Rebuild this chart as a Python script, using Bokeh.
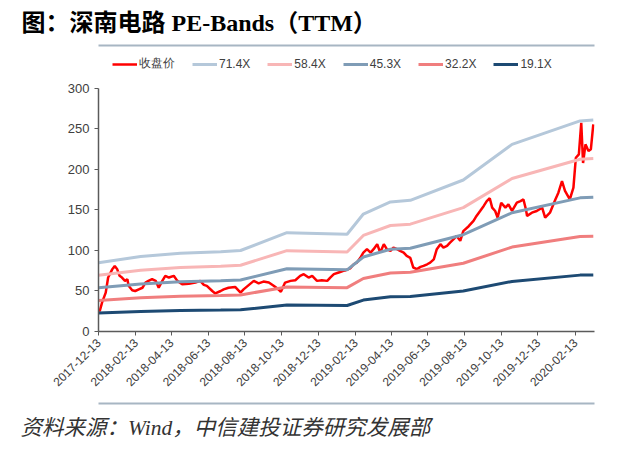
import math
import pandas as pd
from bokeh.plotting import figure
from bokeh.models import (ColumnDataSource, Legend, LegendItem, FixedTicker,
                          DatetimeTickFormatter, Range1d, Title, LinearAxis)
from bokeh.embed import file_html
from bokeh.resources import INLINE

# ---------------- data ----------------
title_text = "图：深南电路 PE-Bands（TTM）"
source_text = "资料来源：Wind，中信建投证券研究发展部"

close_label = "收盘价"
close_dates = [
    "2017-12-13", "2017-12-15", "2017-12-19", "2017-12-25", "2017-12-29", "2018-01-05", "2018-01-09",
    "2018-01-13", "2018-01-17", "2018-01-21", "2018-01-26", "2018-01-30", "2018-02-01", "2018-02-07",
    "2018-02-12", "2018-02-18", "2018-02-24", "2018-03-01", "2018-03-06", "2018-03-12", "2018-03-18",
    "2018-03-23", "2018-03-29", "2018-04-03", "2018-04-09", "2018-04-17", "2018-04-23", "2018-05-01",
    "2018-05-12", "2018-05-23", "2018-05-31", "2018-06-06", "2018-06-11", "2018-06-20", "2018-06-25",
    "2018-07-04", "2018-07-09", "2018-07-17", "2018-07-28", "2018-08-06", "2018-08-11", "2018-08-20",
    "2018-08-28", "2018-09-05", "2018-09-13", "2018-09-22", "2018-09-30", "2018-10-08", "2018-10-12",
    "2018-10-19", "2018-10-28", "2018-11-05", "2018-11-13", "2018-11-19", "2018-11-27", "2018-12-03",
    "2018-12-11", "2018-12-19", "2018-12-28", "2019-01-02", "2019-01-08", "2019-01-16", "2019-01-24",
    "2019-01-28", "2019-02-04", "2019-02-10", "2019-02-15", "2019-02-21", "2019-02-26", "2019-03-04",
    "2019-03-10", "2019-03-15", "2019-03-21", "2019-03-26", "2019-04-01", "2019-04-06", "2019-04-12",
    "2019-04-17", "2019-04-23", "2019-04-28", "2019-05-04", "2019-05-09", "2019-05-15", "2019-05-20",
    "2019-05-26", "2019-06-01", "2019-06-06", "2019-06-12", "2019-06-17", "2019-06-23", "2019-06-28",
    "2019-07-04", "2019-07-09", "2019-07-15", "2019-07-20", "2019-07-26", "2019-07-31", "2019-08-06",
    "2019-08-11", "2019-08-20", "2019-08-28", "2019-09-02", "2019-09-08", "2019-09-14", "2019-09-19",
    "2019-09-24", "2019-09-28", "2019-10-03", "2019-10-07", "2019-10-13", "2019-10-20", "2019-10-25",
    "2019-10-31", "2019-11-08", "2019-11-14", "2019-11-19", "2019-11-23", "2019-11-25", "2019-12-03",
    "2019-12-11", "2019-12-20", "2019-12-25", "2020-01-02", "2020-01-11", "2020-01-16", "2020-01-22",
    "2020-01-27", "2020-02-04", "2020-02-10", "2020-02-14", "2020-02-19", "2020-02-23", "2020-02-26",
    "2020-03-01", "2020-03-06", "2020-03-10", "2020-03-14",
]
close_values = [
    27, 25, 36, 48, 66.6, 77, 81,
    77, 68.7, 66.6, 62.5, 64.6, 56.4, 51,
    50, 52, 54, 60.4, 62.5, 64.6, 62.5,
    54, 62.5, 68.7, 66.6, 68.7, 62.5, 58.4,
    59, 60.4, 62.5, 57.6, 56.4, 50, 47,
    50, 52, 54, 55, 48, 52, 57.6,
    62.5, 59.5, 61.6, 60.4, 56.4, 52, 49,
    60.4, 62.5, 63.3, 68.7, 70.8, 66.6, 68.7,
    62.5, 63.3, 62.5, 66.6, 70.8, 72.8, 74.8,
    75.7, 78, 83, 85, 91, 97.4, 101.6,
    97.4, 101.6, 107.8, 97.4, 107.8, 101.6, 99.5,
    103.6, 101.6, 99.5, 97.4, 93.3, 91, 79,
    77, 79.7, 81, 83, 85, 89, 101.6,
    107.8, 103.6, 105.7, 109.7, 114, 118, 112,
    124, 130, 136.5, 142.7, 148.8, 155, 161,
    164.5, 153, 148.8, 140.6, 159, 153, 157,
    148.8, 159, 161, 163, 151, 142.7, 146.7,
    148.8, 153, 140.6, 146.7, 163, 171.4, 185.8,
    173.5, 163, 177.6, 214.5, 218.7, 257.7, 208,
    231, 222.8, 225, 255.7,
]

band_dates = ["2017-12-13", "2018-02-21", "2018-04-28", "2018-07-04", "2018-08-06", "2018-10-22",
              "2019-01-30", "2019-02-26", "2019-04-12", "2019-05-15", "2019-08-11", "2019-10-31",
              "2020-02-21", "2020-03-14"]
band_714 = [85.0, 92.5, 96.6, 98.6, 100.0, 122.0, 120.0, 145.0, 160.0, 162.0, 187.0, 231.0, 260.0, 261.0]
band_584 = [69.5, 75.7, 79.0, 80.6, 81.8, 99.8, 98.1, 118.6, 130.9, 132.5, 152.9, 188.9, 212.7, 213.5]
band_453 = [53.9, 58.7, 61.3, 62.6, 63.5, 77.4, 76.1, 92.0, 101.5, 102.8, 119.5, 146.6, 165.0, 165.6]
band_322 = [38.3, 41.7, 43.6, 44.5, 45.1, 55.0, 54.1, 65.4, 72.2, 73.1, 84.3, 104.2, 117.3, 117.7]
band_191 = [22.7, 24.7, 25.8, 26.4, 26.8, 32.6, 32.1, 38.8, 42.8, 43.3, 50.0, 61.8, 69.6, 69.8]
band_labels = ["71.4X", "58.4X", "45.3X", "32.2X", "19.1X"]

x_tick_labels = ["2017-12-13", "2018-02-13", "2018-04-13", "2018-06-13", "2018-08-13", "2018-10-13",
                 "2018-12-13", "2019-02-13", "2019-04-13", "2019-06-13", "2019-08-13", "2019-10-13",
                 "2019-12-13", "2020-02-13"]
y_ticks = [0, 50, 100, 150, 200, 250, 300]
x_start = "2017-12-13"
x_end = "2020-03-16"

# ---------------- styles ----------------
band_colors = ["#b5c8da", "#f8b6b6", "#7f9cb6", "#f07e7e", "#1d4a73"]
close_color = "#ff0000"
axis_color = "#5a5a5a"
text_color = "#404040"
rule_color = "#a7b6c3"

# frame: x 98..594, y 53..331 (values 0..300 occupy 88..331; top strip holds the legend)
p = figure(width=640, height=467, x_axis_type="datetime", title=None,
           x_range=Range1d(pd.Timestamp(x_start), pd.Timestamp(x_end)),
           y_range=Range1d(0, 343.2), output_backend="svg", toolbar_location=None,
           min_border_left=98, min_border_right=46, min_border_top=53, min_border_bottom=136,
           outline_line_color=None)
p.grid.visible = False

close_src = ColumnDataSource(dict(date=pd.to_datetime(close_dates), price=close_values))
r_close = p.line("date", "price", source=close_src, line_color=close_color, line_width=2.5)

band_src = ColumnDataSource(dict(date=pd.to_datetime(band_dates), b714=band_714, b584=band_584,
                                 b453=band_453, b322=band_322, b191=band_191))
band_renderers = []
for col, color in zip(["b714", "b584", "b453", "b322", "b191"], band_colors):
    band_renderers.append(p.line("date", col, source=band_src, line_color=color, line_width=3))

p.xaxis.ticker = FixedTicker(ticks=[pd.Timestamp(t).value // 10**6 for t in x_tick_labels])
fmt = "%Y-%m-%d"
p.xaxis.formatter = DatetimeTickFormatter(milliseconds=fmt, seconds=fmt, minsec=fmt, minutes=fmt,
                                          hourmin=fmt, hours=fmt, days=fmt, months=fmt, years=fmt)
p.xaxis.major_label_orientation = math.pi / 4
p.yaxis.ticker = FixedTicker(ticks=y_ticks)
p.yaxis.bounds = (y_ticks[0], y_ticks[-1])
for ax in (p.xaxis, p.yaxis):
    ax.axis_line_color = axis_color
    ax.axis_line_width = 1.5
    ax.major_tick_line_color = axis_color
    ax.major_tick_in = 0
    ax.major_tick_out = 4
    ax.minor_tick_line_color = None
    ax.major_label_text_color = text_color
    ax.major_label_text_font = "Liberation Sans"
p.xaxis.major_label_text_font_size = "12px"
p.yaxis.major_label_text_font_size = "13px"

# ---------------- legend (inside the top strip of the frame) ----------------
items = [LegendItem(label=close_label, renderers=[r_close])]
for lab, r in zip(band_labels, band_renderers):
    items.append(LegendItem(label=lab, renderers=[r]))
legend = Legend(items=items, orientation="horizontal", location=(14, 259),
                border_line_color=None, background_fill_alpha=0, padding=0, margin=0,
                spacing=17, glyph_width=25, glyph_height=14, label_height=14,
                label_standoff=2, label_text_font_size="12px",
                label_text_font="Liberation Sans", label_text_color=text_color)
p.add_layout(legend)


def make_rule():
    return LinearAxis(ticker=FixedTicker(ticks=[]), axis_line_color=rule_color, axis_line_width=2,
                      major_tick_out=0, major_tick_in=0, minor_tick_out=0, minor_tick_in=0,
                      major_label_standoff=0, major_tick_line_color=None,
                      minor_tick_line_color=None, major_label_text_font_size="0px")


# above (from the frame outwards): spacer, rule, title
p.add_layout(Title(text=" ", text_font_size="1px", standoff=5), "above")
p.add_layout(make_rule(), "above")
p.add_layout(Title(text=title_text, align="left", offset=-77, standoff=16, vertical_align="top",
                   text_font="Liberation Serif, Noto Sans CJK SC", text_font_style="bold",
                   text_font_size="24px", text_color="#000000"), "above")

# below (after the x axis): spacer, rule, source note
p.add_layout(Title(text=" ", text_font_size="1px", standoff=7), "below")
p.add_layout(make_rule(), "below")
p.add_layout(Title(text=source_text, align="left", offset=-78, standoff=24, vertical_align="top",
                   text_font="Liberation Serif, Noto Sans CJK SC", text_font_style="italic",
                   text_font_size="21.5px", text_color="#333333"), "below")

open("out.html", "w").write(file_html(p, INLINE))
